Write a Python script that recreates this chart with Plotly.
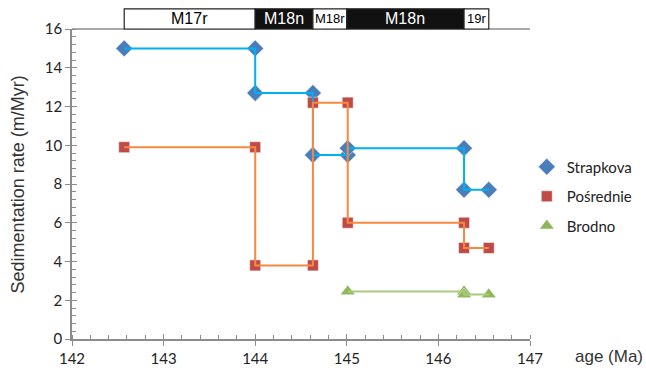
import plotly.graph_objects as go

# ---- data ----
strap_age = [142.57, 144.0, 144.0, 144.63, 144.63, 145.01, 145.01, 146.28, 146.28, 146.55]
strap_rate = [15.0, 15.0, 12.7, 12.7, 9.5, 9.5, 9.85, 9.85, 7.7, 7.7]

posr_age = [142.57, 144.0, 144.0, 144.63, 144.63, 145.01, 145.01, 146.28, 146.28, 146.55]
posr_rate = [9.9, 9.9, 3.8, 3.8, 12.2, 12.2, 6.0, 6.0, 4.7, 4.7]

brod_age = [145.01, 146.28, 146.28, 146.55]
brod_rate = [2.45, 2.45, 2.3, 2.3]

chron_names = ["M17r", "M18n", "M18r", "M18n", "19r"]
chron_start = [142.57, 144.0, 144.63, 145.0, 146.28]
chron_end = [144.0, 144.63, 145.0, 146.28, 146.55]
chron_black = [False, True, False, True, False]
chron_fsize = [16, 16, 13, 16, 13]

series = [
    ("Strapkova", strap_age, strap_rate, "#00B0F0", "#4A7EBB", "diamond", 13),
    ("Pośrednie", posr_age, posr_rate, "#F7883F", "#BE4B48", "square", 11),
    ("Brodno", brod_age, brod_rate, "#A9CB7C", "#8DB758", "triangle-up", 13),
]

fig = go.Figure()
for i, (name, xs, ys, lc, mc, sym, sz) in enumerate(series):
    fig.add_trace(go.Scatter(
        x=xs, y=ys, mode="markers", name=name, legendgroup=name,
        marker=dict(symbol=sym, size=sz, color=mc,
                    line=dict(color="rgba(255,255,255,0.5)", width=1)),
    ))
for i, (name, xs, ys, lc, mc, sym, sz) in enumerate(series):
    fig.add_trace(go.Scatter(
        x=xs, y=ys, mode="lines", name=name, legendgroup=name, showlegend=False,
        line=dict(color=lc, width=2),
    ))

# inside major ticks via overlay axes
fig.add_trace(go.Scatter(x=[142, 147], y=[0, 16], xaxis="x2", yaxis="y2",
                         mode="markers", marker=dict(opacity=0), showlegend=False,
                         hoverinfo="skip"))

shapes = []
annotations = []
for nm, s, e, blk, fs in zip(chron_names, chron_start, chron_end, chron_black, chron_fsize):
    shapes.append(dict(type="rect", xref="x", yref="paper", x0=s, x1=e, y0=1.0, y1=1.065,
                       fillcolor="#111111" if blk else "white",
                       line=dict(color="#222222", width=1.2), layer="above"))
    annotations.append(dict(x=(s + e) / 2, y=1.0325, xref="x", yref="paper", text=nm,
                            showarrow=False,
                            font=dict(family="Liberation Sans, Arial", size=fs,
                                      color="white" if blk else "black"),
                            xanchor="center", yanchor="middle"))
# top border line
shapes.append(dict(type="line", xref="x", yref="paper", x0=142, x1=147, y0=1.0, y1=1.0,
                   line=dict(color="#8C8C8C", width=1.5), layer="below"))

annotations.append(dict(x=1.093, y=-0.058, xref="paper", yref="paper", text="age (Ma)",
                        showarrow=False, xanchor="left", yanchor="middle",
                        font=dict(family="Liberation Sans, Arial", size=17, color="#333333")))
annotations.append(dict(x=-0.117, y=0.5, xref="paper", yref="paper",
                        text="Sedimentation rate (m/Myr)", textangle=-90,
                        showarrow=False, xanchor="center", yanchor="middle",
                        font=dict(family="Liberation Sans, Arial", size=18, color="#333333")))

axis_common = dict(showgrid=False, zeroline=False, showline=True, linecolor="#8C8C8C",
                   linewidth=1.5, tickcolor="#8C8C8C", tickwidth=1.2, automargin=False)

fig.update_layout(
    width=646, height=371,
    margin=dict(l=71.5, r=116, t=29, b=32, autoexpand=False),
    paper_bgcolor="white", plot_bgcolor="white",
    font=dict(family="Lato", size=15, color="#222222"),
    xaxis=dict(range=[142, 147], dtick=1, ticks="outside", ticklen=5,
               minor=dict(dtick=0.2, ticks="inside", ticklen=4, tickcolor="#8C8C8C"),
               tickfont=dict(family="Lato", size=15), **axis_common),
    yaxis=dict(range=[0, 16], dtick=2, ticks="outside", ticklen=5,
               minor=dict(dtick=0.4, ticks="inside", ticklen=4, tickcolor="#8C8C8C"),
               tickfont=dict(family="Lato", size=15), **axis_common),
    xaxis2=dict(overlaying="x", range=[142, 147], dtick=1, ticks="inside", ticklen=5,
                showticklabels=False, showgrid=False, zeroline=False, showline=False,
                tickcolor="#8C8C8C", tickwidth=1.2, anchor="y2", automargin=False),
    yaxis2=dict(overlaying="y", range=[0, 16], dtick=2, ticks="inside", ticklen=5,
                showticklabels=False, showgrid=False, zeroline=False, showline=False,
                tickcolor="#8C8C8C", tickwidth=1.2, anchor="x2", automargin=False),
    legend=dict(x=0.993, y=0.608, xanchor="left", yanchor="top", tracegroupgap=7,
                traceorder="grouped", font=dict(family="Lato", size=15, color="#222222"),
                bgcolor="rgba(0,0,0,0)"),
    shapes=shapes, annotations=annotations,
    showlegend=True,
)

fig.write_html("out.html")
